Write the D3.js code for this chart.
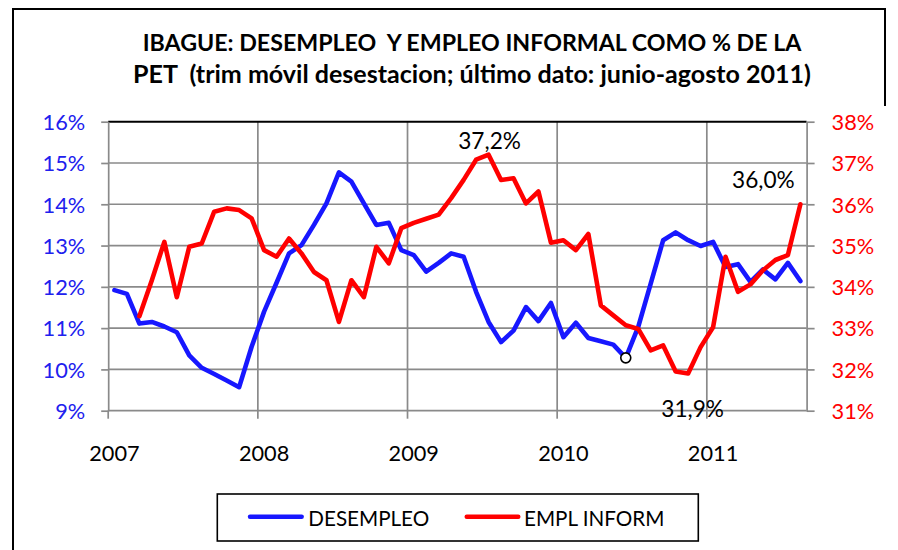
<!DOCTYPE html>
<html>
<head>
<meta charset="utf-8">
<script src="https://cdn.jsdelivr.net/npm/d3@7"></script>
<style>
  body { margin: 0; background: #fff; }
  svg { display: block; }
  text { font-family: Lato, "Liberation Sans", sans-serif; }
</style>
</head>
<body>
<svg id="chart" width="898" height="550"></svg>
<script>
// Monthly moving-quarter observations, Jan 2007 – Aug 2011
const months = [
  "2007-01","2007-02","2007-03","2007-04","2007-05","2007-06","2007-07","2007-08","2007-09","2007-10","2007-11","2007-12",
  "2008-01","2008-02","2008-03","2008-04","2008-05","2008-06","2008-07","2008-08","2008-09","2008-10","2008-11","2008-12",
  "2009-01","2009-02","2009-03","2009-04","2009-05","2009-06","2009-07","2009-08","2009-09","2009-10","2009-11","2009-12",
  "2010-01","2010-02","2010-03","2010-04","2010-05","2010-06","2010-07","2010-08","2010-09","2010-10","2010-11","2010-12",
  "2011-01","2011-02","2011-03","2011-04","2011-05","2011-06","2011-07","2011-08"
];
const yearLabels = ["2007", "2008", "2009", "2010", "2011"];

// Unemployment as % of working-age population (left axis)
const desempleo = [
  11.92, 11.83, 11.11, 11.15, 11.04, 10.90, 10.34, 10.04, 9.89, 9.73, 9.57, 10.55,
  11.40, 12.10, 12.81, 13.01, 13.50, 14.02, 14.77, 14.55, 14.02, 13.50, 13.55, 12.89,
  12.77, 12.37, 12.58, 12.81, 12.73, 11.88, 11.15, 10.66, 10.94, 11.51, 11.17, 11.61,
  10.78, 11.13, 10.76, 10.68, 10.60, 10.28, 11.03, 12.08, 13.13, 13.32, 13.13, 12.99,
  13.09, 12.48, 12.55, 12.12, 12.42, 12.18, 12.58, 12.14
];

// Informal employment as % of working-age population (right axis)
const emplInform = [
  null, null, 33.29, 34.16, 35.09, 33.75, 34.97, 35.05, 35.82, 35.90, 35.86, 35.66,
  34.89, 34.73, 35.17, 34.81, 34.36, 34.16, 33.15, 34.16, 33.75, 34.97, 34.57, 35.42,
  35.55, 35.65, 35.75, 36.15, 36.59, 37.08, 37.20, 36.59, 36.63, 36.02, 36.31, 35.07,
  35.13, 34.89, 35.28, 33.55, 33.31, 33.07, 32.98, 32.46, 32.58, 31.95, 31.90, 32.54,
  33.02, 34.73, 33.88, 34.06, 34.40, 34.65, 34.77, 36.00
];

const leftTicks = [9, 10, 11, 12, 13, 14, 15, 16];
const rightTicks = [31, 32, 33, 34, 35, 36, 37, 38];
const seriesNames = ["DESEMPLEO", "EMPL INFORM"];
const titleLines = [
  "IBAGUE: DESEMPLEO  Y EMPLEO INFORMAL COMO % DE LA",
  "PET  (trim móvil desestacion; último dato: junio-agosto 2011)"
];
// Highlighted informal-employment points carrying a value label
const labelledMonths = ["2009-07", "2010-11", "2011-08"];
// Unemployment point marked with a hollow circle
const markedMonth = "2010-06";

// ---- layout ----
const svg = d3.select("#chart");
const plot = { left: 108.2, right: 806.6, top: 121.7, bottom: 410.7 };
const BLUE = "#1717ff", RED = "#ff0000", GRID = "#8a8a8a";
const labelBlue = "#2020ee";

// font size that makes a string reach a given width
function fitSize(str, weight, width) {
  const t = svg.append("text").attr("font-size", 100).attr("font-weight", weight)
    .style("white-space", "pre").text(str);
  const w = t.node().getComputedTextLength();
  t.remove();
  return 100 * width / w;
}

const x = d3.scaleBand().domain(months).range([plot.left, plot.right]);
const cx = m => x(m) + x.bandwidth() / 2;
const yL = d3.scaleLinear().domain([9, 16]).range([plot.bottom, plot.top]);
const yR = d3.scaleLinear().domain([31, 38]).range([plot.bottom, plot.top]);

// outer frame
svg.append("path")
  .attr("d", "M13,552V9H885V106")
  .attr("fill", "none").attr("stroke", "#000").attr("stroke-width", 2);

// title, each line sized to its own width
const titleLayout = [
  { y: 50.7, width: 659 },
  { y: 83.3, width: 678 }
];
svg.append("g").selectAll("text").data(titleLines).join("text")
  .attr("x", 472).attr("y", (d, i) => titleLayout[i].y)
  .attr("text-anchor", "middle").attr("font-weight", "bold")
  .attr("font-size", (d, i) => fitSize(d, "bold", titleLayout[i].width))
  .style("white-space", "pre")
  .attr("fill", "#000").text(d => d);

// horizontal gridlines
svg.append("g").selectAll("line").data(leftTicks.slice(1, -1)).join("line")
  .attr("x1", plot.left).attr("x2", plot.right)
  .attr("y1", d => yL(d)).attr("y2", d => yL(d))
  .attr("stroke", GRID).attr("stroke-width", 1.7);

// vertical gridlines at the start of each year
const janMonths = yearLabels.map(y => y + "-01");
svg.append("g").selectAll("line").data(janMonths.slice(1)).join("line")
  .attr("x1", d => x(d)).attr("x2", d => x(d))
  .attr("y1", plot.top).attr("y2", plot.bottom)
  .attr("stroke", GRID).attr("stroke-width", 1.7);

// top border of the plot area
svg.append("line")
  .attr("x1", plot.left).attr("x2", plot.right)
  .attr("y1", plot.top).attr("y2", plot.top)
  .attr("stroke", "#000").attr("stroke-width", 2);

// left axis
const tickSize = fitSize("16%", "normal", 42.7);
const gL = svg.append("g").attr("transform", `translate(${plot.left},0)`)
  .call(d3.axisLeft(yL).tickValues(leftTicks).tickSize(7).tickSizeOuter(0)
    .tickPadding(16).tickFormat(d => d + "%"));
gL.select(".domain").attr("stroke", GRID).attr("stroke-width", 1.7);
gL.selectAll(".tick line").attr("stroke", GRID).attr("stroke-width", 1.7);
gL.selectAll(".tick text").attr("fill", labelBlue).attr("font-size", tickSize)
  .attr("font-family", null).attr("dy", "0.36em");

// right axis
const gR = svg.append("g").attr("transform", `translate(${plot.right},0)`)
  .call(d3.axisRight(yR).tickValues(rightTicks).tickSize(8).tickSizeOuter(0)
    .tickPadding(17).tickFormat(d => d + "%"));
gR.select(".domain").attr("stroke", GRID).attr("stroke-width", 1.7);
gR.selectAll(".tick line").attr("stroke", GRID).attr("stroke-width", 1.7);
gR.selectAll(".tick text").attr("fill", RED).attr("font-size", tickSize)
  .attr("font-family", null).attr("dy", "0.36em");

// bottom axis: line, year tick marks at the band edges, labels centred on January
const gB = svg.append("g");
gB.append("line")
  .attr("x1", plot.left).attr("x2", plot.right)
  .attr("y1", plot.bottom).attr("y2", plot.bottom)
  .attr("stroke", GRID).attr("stroke-width", 1.7);
gB.selectAll("line.tick").data(janMonths).join("line").attr("class", "tick")
  .attr("x1", d => x(d)).attr("x2", d => x(d))
  .attr("y1", plot.bottom).attr("y2", plot.bottom + 8)
  .attr("stroke", GRID).attr("stroke-width", 1.7);
const yearSize = fitSize("2007", "normal", 50.4);
gB.selectAll("text").data(janMonths).join("text")
  .attr("x", d => cx(d)).attr("y", 461)
  .attr("text-anchor", "middle").attr("font-size", yearSize).attr("fill", "#000")
  .text((d, i) => yearLabels[i]);

// series lines
const blueLine = d3.line()
  .defined(d => d.v != null)
  .x(d => cx(d.m)).y(d => yL(d.v));
const redLine = d3.line()
  .defined(d => d.v != null)
  .x(d => cx(d.m)).y(d => yR(d.v));

const blueData = months.map((m, i) => ({ m, v: desempleo[i] }));
const redData = months.map((m, i) => ({ m, v: emplInform[i] }));

svg.append("path").datum(blueData).attr("d", blueLine)
  .attr("fill", "none").attr("stroke", BLUE).attr("stroke-width", 4.6)
  .attr("stroke-linejoin", "round").attr("stroke-linecap", "round");
svg.append("path").datum(redData).attr("d", redLine)
  .attr("fill", "none").attr("stroke", RED).attr("stroke-width", 4.6)
  .attr("stroke-linejoin", "round").attr("stroke-linecap", "round");

// hollow marker on the unemployment series
const mi = months.indexOf(markedMonth);
svg.append("circle")
  .attr("cx", cx(markedMonth)).attr("cy", yL(desempleo[mi]))
  .attr("r", 5).attr("fill", "#fff").attr("stroke", "#000").attr("stroke-width", 1.6);

// value labels on informal employment
const fmt = v => d3.format(".1f")(v).replace(".", ",") + "%";
const labelOffsets = { "2009-07": [1, -6], "2010-11": [4.5, 43.2], "2011-08": [-37, -16] };
const noteSize = fitSize("37,2%", "normal", 62.7);
svg.append("g").selectAll("text").data(labelledMonths).join("text")
  .attr("x", m => cx(m) + labelOffsets[m][0])
  .attr("y", m => yR(emplInform[months.indexOf(m)]) + labelOffsets[m][1])
  .attr("text-anchor", "middle").attr("font-size", noteSize).attr("fill", "#000")
  .text(m => fmt(emplInform[months.indexOf(m)]));

// legend
const lg = svg.append("g");
lg.append("rect").attr("x", 217.3).attr("y", 494).attr("width", 481).attr("height", 47)
  .attr("fill", "#fff").attr("stroke", "#000").attr("stroke-width", 1.6);
const legendSize = fitSize(seriesNames[0], "normal", 121);
const legendItems = [
  { name: seriesNames[0], color: BLUE, x0: 250, x1: 301.7, tx: 308.3 },
  { name: seriesNames[1], color: RED, x0: 466.7, x1: 518.3, tx: 524 }
];
const li = lg.selectAll("g").data(legendItems).join("g");
li.append("line")
  .attr("x1", d => d.x0).attr("x2", d => d.x1).attr("y1", 516.7).attr("y2", 516.7)
  .attr("stroke", d => d.color).attr("stroke-width", 4.4).attr("stroke-linecap", "round");
li.append("text").attr("x", d => d.tx).attr("y", 525.7)
  .attr("font-size", legendSize).attr("fill", "#000").text(d => d.name);
</script>
</body>
</html>
